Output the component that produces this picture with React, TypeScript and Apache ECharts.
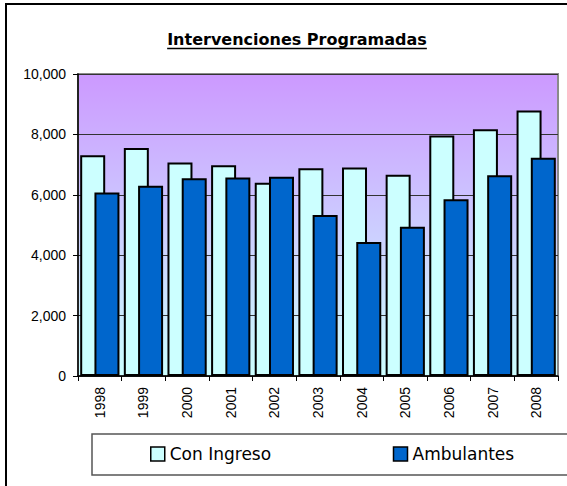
import React, { useEffect, useRef } from "react";
import * as echarts from "echarts";

const years = ["1998", "1999", "2000", "2001", "2002", "2003", "2004", "2005", "2006", "2007", "2008"];
const conIngreso = [7310, 7550, 7070, 6980, 6400, 6880, 6900, 6660, 7960, 8170, 8790];
const ambulantes = [6080, 6300, 6550, 6570, 6600, 5330, 4440, 4940, 5850, 6650, 7230];
const seriesNames = ["Con Ingreso", "Ambulantes"];
const titleText = "Intervenciones Programadas";

function measure(text: string, font: string): number {
  const c = document.createElement("canvas");
  const ctx = c.getContext("2d");
  if (!ctx) return 259;
  ctx.font = font;
  return ctx.measureText(text).width;
}

export default function App() {
  const ref = useRef<HTMLDivElement>(null);
  useEffect(() => {
    document.body.style.margin = "0";
    if (!ref.current) return;
    const chart = echarts.init(ref.current, null, { renderer: "svg" });
    const titleFont = 'bold 16px "DejaVu Sans"';
    const tw = measure(titleText, titleFont);
    const tcx = 297;
    chart.setOption({
      animation: false,
      backgroundColor: "#ffffff",
      grid: {
        left: 78,
        right: 9,
        top: 74,
        bottom: 110,
        show: true,
        borderColor: "#8a8a8a",
        borderWidth: 2,
        backgroundColor: {
          type: "linear",
          x: 0,
          y: 0,
          x2: 0,
          y2: 1,
          colorStops: [
            { offset: 0, color: "#CC99FF" },
            { offset: 1, color: "#CCFFFF" },
          ],
        },
      },
      legend: {
        data: seriesNames,
        left: 150,
        top: 445,
        orient: "horizontal",
        padding: 0,
        itemGap: 115,
        itemWidth: 14,
        itemHeight: 14,
        icon: "rect",
        itemStyle: { borderColor: "#000", borderWidth: 1.5 },
        textStyle: {
          fontFamily: "DejaVu Sans",
          fontSize: 17,
          color: "#000",
          width: 108,
          lineHeight: 18,
        },
      },
      xAxis: {
        type: "category",
        data: years,
        axisLine: { show: true, lineStyle: { color: "#000", width: 1.5 } },
        axisTick: { show: true, length: 5, lineStyle: { color: "#000", width: 1 } },
        axisLabel: {
          rotate: 90,
          fontFamily: "Liberation Sans",
          fontSize: 14,
          color: "#000",
          margin: 11,
        },
        splitLine: { show: false },
      },
      yAxis: {
        type: "value",
        min: 0,
        max: 10000,
        interval: 2000,
        axisLine: { show: true, lineStyle: { color: "#000", width: 1.5 } },
        axisTick: { show: true, length: 5, lineStyle: { color: "#000", width: 1 } },
        axisLabel: {
          fontFamily: "Liberation Sans",
          fontSize: 14,
          color: "#000",
          margin: 12,
          formatter: (v: number) => v.toLocaleString("en-US"),
        },
        splitLine: { show: true, lineStyle: { color: "#333", width: 1 } },
      },
      series: [
        {
          name: seriesNames[0],
          type: "bar",
          data: conIngreso,
          barWidth: 25,
          barGap: "-43%",
          itemStyle: { color: "#CCFFFF", borderColor: "#000", borderWidth: 2 },
        },
        {
          name: seriesNames[1],
          type: "bar",
          data: ambulantes,
          barWidth: 25,
          barGap: "-43%",
          itemStyle: { color: "#0066CC", borderColor: "#000", borderWidth: 2 },
        },
      ],
      graphic: [
        {
          type: "rect",
          shape: { x: 6, y: 4, width: 640, height: 560 },
          style: { fill: "none", stroke: "#000", lineWidth: 2 },
          silent: true,
        },
        {
          type: "rect",
          shape: { x: 92, y: 434, width: 520, height: 41 },
          style: { fill: "none", stroke: "#555", lineWidth: 1.5 },
          silent: true,
        },
        {
          type: "text",
          x: tcx,
          y: 39,
          style: {
            text: titleText,
            font: titleFont,
            fill: "#000",
            align: "center",
            verticalAlign: "middle",
          },
        },
        {
          type: "line",
          shape: { x1: tcx - tw / 2, y1: 48.5, x2: tcx + tw / 2, y2: 48.5 },
          style: { stroke: "#000", lineWidth: 1.5 },
        },
      ],
    });
    return () => chart.dispose();
  }, []);
  return <div ref={ref} style={{ width: 567, height: 486 }} />;
}
